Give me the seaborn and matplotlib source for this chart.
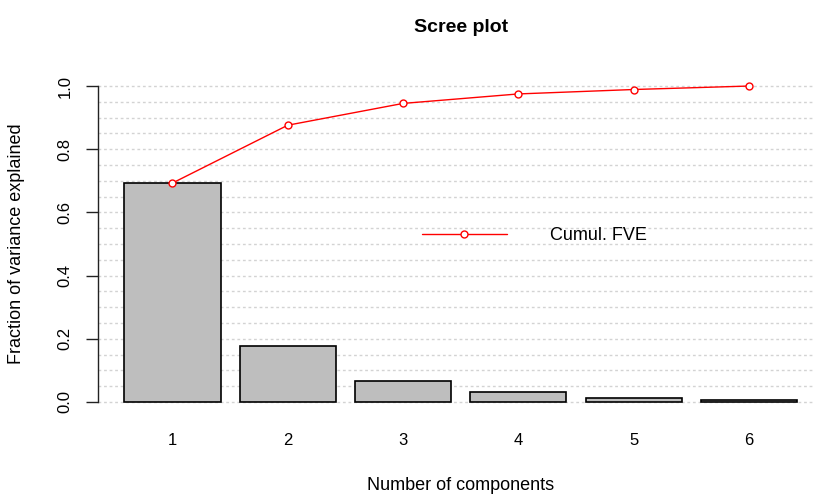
import numpy as np
import pandas as pd
import matplotlib.pyplot as plt
import seaborn as sns

# values
components = ['1', '2', '3', '4', '5', '6']
fve = [0.693, 0.177, 0.067, 0.032, 0.014, 0.005]
cumul_fve = [0.693, 0.876, 0.945, 0.975, 0.989, 1.0]
ytick_vals = [0.0, 0.2, 0.4, 0.6, 0.8, 1.0]
ytick_labels = ['0.0', '0.2', '0.4', '0.6', '0.8', '1.0']

df = pd.DataFrame({'component': components, 'fve': fve, 'cumul': cumul_fve})

sns.set_style('white')
plt.rcParams['font.family'] = ['Liberation Sans', 'DejaVu Sans']
plt.rcParams['text.color'] = 'black'
plt.rcParams['axes.labelcolor'] = 'black'
plt.rcParams['xtick.color'] = 'black'
plt.rcParams['ytick.color'] = 'black'

fig = plt.figure(figsize=(8.15, 4.94), dpi=100)
ax = fig.add_axes([98 / 815, 1 - 414.6 / 494, 726 / 815, 341.2 / 494])

# dotted horizontal grid every 0.05
for y in np.arange(0, 1.001, 0.05):
    ax.axhline(y, color='#d3d3d3', lw=1, ls=(0, (2, 2)), zorder=0)

sns.barplot(data=df, x='component', y='fve', color='#bebebe', saturation=1,
            edgecolor='black', linewidth=1.2, width=1 / 1.2, ax=ax, zorder=2)

sns.lineplot(x=np.arange(len(components)), y=cumul_fve, color='red', lw=1,
             marker='o', markersize=5, markerfacecolor='white',
             markeredgecolor='red', markeredgewidth=1,
             label='Cumul. FVE', ax=ax, zorder=3)

ax.set_xlim(-0.646, 5.651)
ax.set_ylim(-0.04, 1.04)

for s in ['top', 'right', 'bottom']:
    ax.spines[s].set_visible(False)
ax.spines['left'].set_bounds(0, 1)
ax.spines['left'].set_color('#222222')
ax.spines['left'].set_linewidth(1)

ax.set_yticks(ytick_vals)
ax.set_yticklabels(ytick_labels)
ax.tick_params(axis='y', left=True, length=9, width=1, color='#222222',
               direction='out', pad=9.5, labelsize=12)
for lbl in ax.get_yticklabels():
    lbl.set_rotation(90)
    lbl.set_va('center')
ax.tick_params(axis='x', bottom=False, length=0, pad=13, labelsize=12)

ax.set_xlabel('Number of components', fontsize=13)
ax.set_ylabel('Fraction of variance explained', fontsize=13)
ax.xaxis.set_label_coords(0.5, (414.6 - 477) / 341.2)
ax.yaxis.set_label_coords((25 - 98) / 726, 0.5)
ax.set_title('Scree plot', fontsize=14, fontweight='bold', pad=30)

ax.legend(loc='center left', bbox_to_anchor=((422 - 98) / 726, (414.6 - 236) / 341.2),
          frameon=False, fontsize=13, handlelength=4.7, handletextpad=2.4,
          borderpad=0, borderaxespad=0)

fig.savefig('out.png', dpi=100)
